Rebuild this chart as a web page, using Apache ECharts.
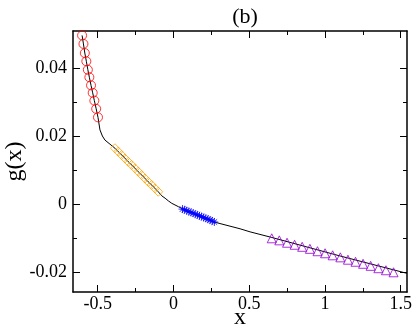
<!DOCTYPE html>
<html lang="en">
<head>
    <meta charset="UTF-8">
    <title>g(x) (b)</title>
    <script src="https://cdn.jsdelivr.net/npm/echarts@6.0.0/dist/echarts.min.js"></script>
    <style>
        html, body { margin: 0; padding: 0; background: #fff; }
        #main { width: 415px; height: 327px; }
    </style>
</head>
<body>
    <div id="main"></div>
    <script>
        // black curve g(x)
        const curveX = [-0.603, -0.594, -0.585, -0.575, -0.565, -0.555, -0.544, -0.533, -0.522, -0.510, -0.498,
            -0.485, -0.469, -0.452, -0.419, -0.386, -0.243, -0.100, -0.077, -0.055, -0.033, -0.011, 0.033,
            0.063, 0.166, 0.268, 0.440, 0.506, 0.645, 1.100, 1.541]
        const curveY = [0.0496, 0.0471, 0.0444, 0.0420, 0.0395, 0.0373, 0.0349, 0.0327, 0.0304, 0.0280, 0.0255,
            0.0218, 0.0200, 0.0188, 0.0176, 0.0164, 0.0100, 0.0036, 0.0024, 0.0017, 0.0009, 0.0002, -0.0008,
            -0.0015, -0.0034, -0.0053, -0.0073, -0.0082, -0.0098, -0.0153, -0.0204]

        // red circles
        const circX = [-0.603, -0.594, -0.585, -0.575, -0.565, -0.555, -0.544, -0.533, -0.522, -0.510, -0.498]
        const circY = [0.0496, 0.0471, 0.0444, 0.0420, 0.0395, 0.0373, 0.0349, 0.0327, 0.0304, 0.0280, 0.0255]

        // orange diamonds
        const diamX = [-0.386, -0.364, -0.342, -0.320, -0.298, -0.276, -0.254, -0.232, -0.210, -0.188, -0.166, -0.144, -0.122, -0.100]
        const diamY = [0.0164, 0.0154, 0.0144, 0.0134, 0.0124, 0.0115, 0.0105, 0.0095, 0.0085, 0.0075, 0.0065, 0.0056, 0.0046, 0.0036]

        // blue stars
        const starX = [0.060, 0.074, 0.088, 0.102, 0.116, 0.130, 0.144, 0.158, 0.172, 0.186, 0.200, 0.214, 0.228, 0.242, 0.256, 0.270]
        const starY = [-0.0015, -0.0017, -0.0020, -0.0022, -0.0025, -0.0027, -0.0030, -0.0032, -0.0035, -0.0037, -0.0040, -0.0042, -0.0045, -0.0047, -0.0050, -0.0053]

        // violet triangles
        const triX = [0.649, 0.699, 0.750, 0.800, 0.850, 0.901, 0.951, 1.001, 1.051, 1.102, 1.152, 1.202, 1.252, 1.302, 1.353, 1.403, 1.453]
        const triY = [-0.0101, -0.0107, -0.0114, -0.0120, -0.0126, -0.0132, -0.0139, -0.0145, -0.0151, -0.0157, -0.0164, -0.0170, -0.0176, -0.0182, -0.0189, -0.0195, -0.0201]

        // ticks
        const xMajor = [-0.5, 0, 0.5, 1, 1.5]
        const xMinor = [-0.25, 0.25, 0.75, 1.25]
        const yMajor = [-0.02, 0, 0.02, 0.04]
        const yMinor = [-0.01, 0.01, 0.03]

        const xMin = -0.663, xMax = 1.542
        const yMin = -0.0259, yMax = 0.0509
        const serif = 'Liberation Serif'

        const zip = (a, b) => a.map((v, i) => [v, b[i]])

        function xAx (pos, ticks, len, main) {
            return {
                type: 'value', position: pos, min: xMin, max: xMax,
                splitLine: { show: false },
                axisLine: { show: main !== undefined, onZero: false, lineStyle: { color: '#000', width: 1.5 } },
                axisTick: { inside: true, length: len, customValues: ticks, lineStyle: { color: '#000', width: 1 } },
                axisLabel: main ? { show: true, customValues: xMajor, margin: 3, color: '#000', fontFamily: serif, fontSize: 18 } : { show: false },
                name: main ? 'x' : '',
                nameLocation: 'middle', nameGap: 14, nameMoveOverlap: false,
                nameTextStyle: { color: '#000', fontFamily: serif, fontSize: 24 }
            }
        }
        function yAx (pos, ticks, len, main) {
            return {
                type: 'value', position: pos, min: yMin, max: yMax,
                splitLine: { show: false },
                axisLine: { show: main !== undefined, onZero: false, lineStyle: { color: '#000', width: 1.5 } },
                axisTick: { inside: true, length: len, customValues: ticks, lineStyle: { color: '#000', width: 1 } },
                axisLabel: main ? {
                    show: true, customValues: yMajor, margin: 6, color: '#000', fontFamily: serif, fontSize: 18,
                    formatter: v => (Math.abs(v) < 1e-9 ? '0' : String(Math.round(v * 100) / 100))
                } : { show: false },
                name: main ? 'g(x)' : '',
                nameLocation: 'middle', nameGap: 46, nameMoveOverlap: false,
                nameTextStyle: { color: '#000', fontFamily: serif, fontSize: 24 }
            }
        }

        const chart = echarts.init(document.getElementById('main'))
        chart.setOption({
            animation: false,
            backgroundColor: '#fff',
            title: {
                text: '(b)', left: 240, top: 1, textAlign: 'center',
                textStyle: { color: '#000', fontFamily: serif, fontSize: 22, fontWeight: 'normal' }
            },
            grid: { left: 73, right: 8, top: 31, bottom: 35, outerBoundsMode: 'none', containLabel: false },
            xAxis: [
                xAx('bottom', xMajor, 7, true),
                xAx('bottom', xMinor, 4),
                xAx('top', xMajor, 7, false),
                xAx('top', xMinor, 4)
            ],
            yAxis: [
                yAx('left', yMajor, 7, true),
                yAx('left', yMinor, 4),
                yAx('right', yMajor, 7, false),
                yAx('right', yMinor, 4)
            ],
            series: [
                {
                    type: 'line', data: zip(curveX, curveY), showSymbol: false, symbol: 'none',
                    lineStyle: { color: '#000', width: 1 }, z: 1
                },
                {
                    type: 'scatter', data: zip(circX, circY), symbol: 'circle', symbolSize: 9,
                    itemStyle: { color: 'rgba(0,0,0,0)', borderColor: '#ff0000', borderWidth: 1 }, z: 3
                },
                {
                    type: 'scatter', data: zip(diamX, diamY), symbol: 'path://M5,0L10,5L5,10L0,5Z', symbolSize: 9,
                    itemStyle: { color: 'rgba(0,0,0,0)', borderColor: '#ffa500', borderWidth: 1 }, z: 3
                },
                {
                    type: 'scatter', data: zip(starX, starY),
                    symbol: 'path://M0,5L10,5M5,0L5,10M1.5,1.5L8.5,8.5M1.5,8.5L8.5,1.5', symbolSize: 8,
                    itemStyle: { color: 'rgba(0,0,0,0)', borderColor: '#0000ff', borderWidth: 1 }, z: 3
                },
                {
                    type: 'scatter', data: zip(triX, triY), symbol: 'triangle', symbolSize: 9,
                    itemStyle: { color: 'rgba(0,0,0,0)', borderColor: '#9400d3', borderWidth: 1 }, z: 3
                }
            ]
        })
    </script>
</body>
</html>
